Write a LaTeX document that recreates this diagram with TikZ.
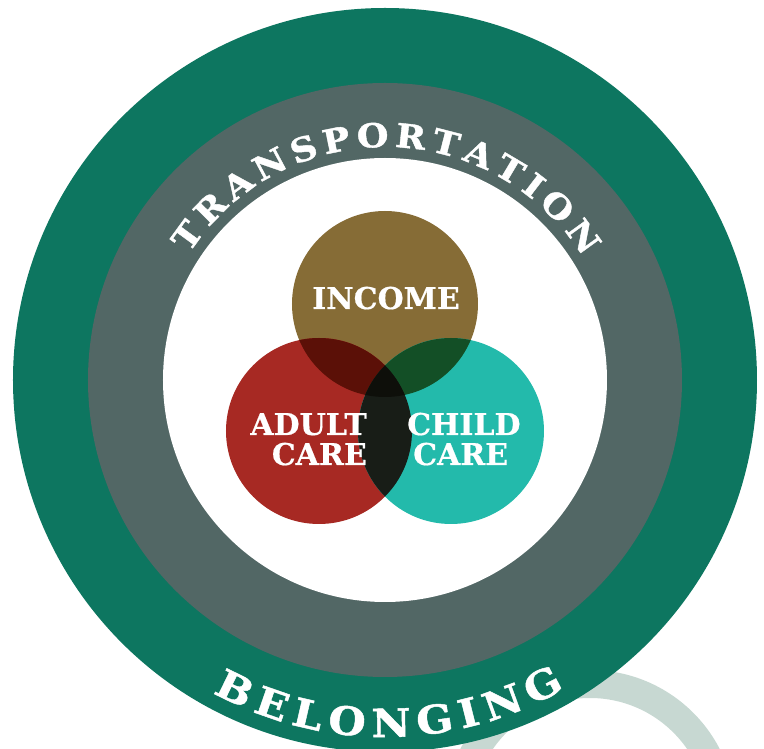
\documentclass[tikz,border=0pt]{standalone}
\usepackage{fontspec}
\newfontfamily\slab{DejaVu Serif}[BoldFeatures={FakeBold=0.6}]
\newfontfamily\slabwide{DejaVu Serif}[BoldFeatures={FakeStretch=1.1,FakeBold=1.2}]
\definecolor{ringgreen}{HTML}{0D7660}
\definecolor{ringgray}{HTML}{526765}
\definecolor{lightring}{HTML}{C7D8D2}
\definecolor{incomec}{HTML}{866C36}
\definecolor{adultc}{HTML}{A72923}
\definecolor{childc}{HTML}{23BAAB}
\definecolor{ovIA}{HTML}{5B1007}
\definecolor{ovIC}{HTML}{134F26}
\definecolor{ovAC}{HTML}{181D17}
\definecolor{ovAll}{HTML}{0E0F0A}
\newlength\arcw \newlength\arcc \newlength\arcl
\newcommand\fontTop{\slabwide\bfseries\fontsize{33}{33}\selectfont}
\newcommand\fontBot{\slabwide\bfseries\fontsize{39}{39}\selectfont}
\newcommand\fontVenn{\slab\bfseries\fontsize{30}{30}\selectfont}
% #1 list macro, #2 font, #3 extra sep (pt), #4 radius, #5 centre angle, #6 letters, #7 direction (+1 / -1)
\newcommand\prearc[7]{%
  \global\arcw=0pt
  \foreach \c in {#6}{\settowidth{\arcl}{#2\c}\global\advance\arcw by \arcl\global\advance\arcw by #3pt\relax}%
  \global\advance\arcw by -#3pt\relax
  \pgfmathsetmacro\arcstart{#5-(#7)*0.5*\arcw/#4*180/pi}%
  \global\arcc=0pt
  \gdef#1{}%
  \foreach \c in {#6}{%
    \settowidth{\arcl}{#2\c}%
    \pgfmathsetmacro\arca{\arcstart+(#7)*(\arcc+0.5*\arcl)/#4*180/pi}%
    \ifx#1\empty\xdef#1{\arca/\c}\else\xdef#1{#1,\arca/\c}\fi
    \global\advance\arcc by \arcl\global\advance\arcc by #3pt\relax
  }%
}
\AtBeginDocument{%
  \prearc{\toplist}{\fontTop}{5.5}{233}{89.5}{T,R,A,N,S,P,O,R,T,A,T,I,O,N}{-1}%
  \prearc{\botlist}{\fontBot}{7.5}{357}{270.7}{B,E,L,O,N,G,I,N,G}{1}%
}
\tikzset{
  arclet/.style={text=white,inner sep=0pt,anchor=base},
  vennlabel/.style={text=white,inner sep=0pt,font=\fontVenn}
}
\begin{document}
\begin{tikzpicture}[x=1pt,y=1pt]
\useasboundingbox (-385,-369) rectangle (379,380);
\clip (-385,-369) rectangle (379,380);
% background ring (bottom right)
\fill[lightring,even odd rule] (205,-436) circle (146pt) (205,-436) circle (118pt);
% concentric rings
\coordinate (O) at (0,0);
\fill[ringgreen] (O) circle (372pt);
\fill[ringgray] (O) circle (297pt);
\fill[white] (O) circle (222pt);
% venn
\coordinate (I) at (0,76);
\coordinate (A) at (-66,-51);
\coordinate (C) at (66,-51);
\fill[incomec] (I) circle (93pt);
\fill[adultc] (A) circle (93pt);
\fill[childc] (C) circle (93pt);
\begin{scope}\clip (I) circle (93pt); \fill[ovIA] (A) circle (93pt); \fill[ovIC] (C) circle (93pt); \end{scope}
\begin{scope}\clip (A) circle (93pt); \fill[ovAC] (C) circle (93pt);
  \clip (C) circle (93pt); \fill[ovAll] (I) circle (93pt); \end{scope}
\node[vennlabel,anchor=base] (income) at (1,71) {INCOME};
\node[vennlabel,anchor=base east] (adult1) at (-18,-55) {ADULT};
\node[vennlabel,anchor=base east] (adult2) at (-18,-85) {CARE};
\node[vennlabel,anchor=base west] (child1) at (22,-55) {CHILD};
\node[vennlabel,anchor=base west] (child2) at (28,-85) {CARE};
% ring texts
\foreach \a/\c [count=\k] in \toplist {\node[arclet,font=\fontTop,rotate=\a-90] (tr\k) at (\a:233) {\c};}
\foreach \a/\c [count=\k] in \botlist {\node[arclet,font=\fontBot,rotate=\a+90] (be\k) at (\a:357) {\c};}
\end{tikzpicture}
\end{document}
